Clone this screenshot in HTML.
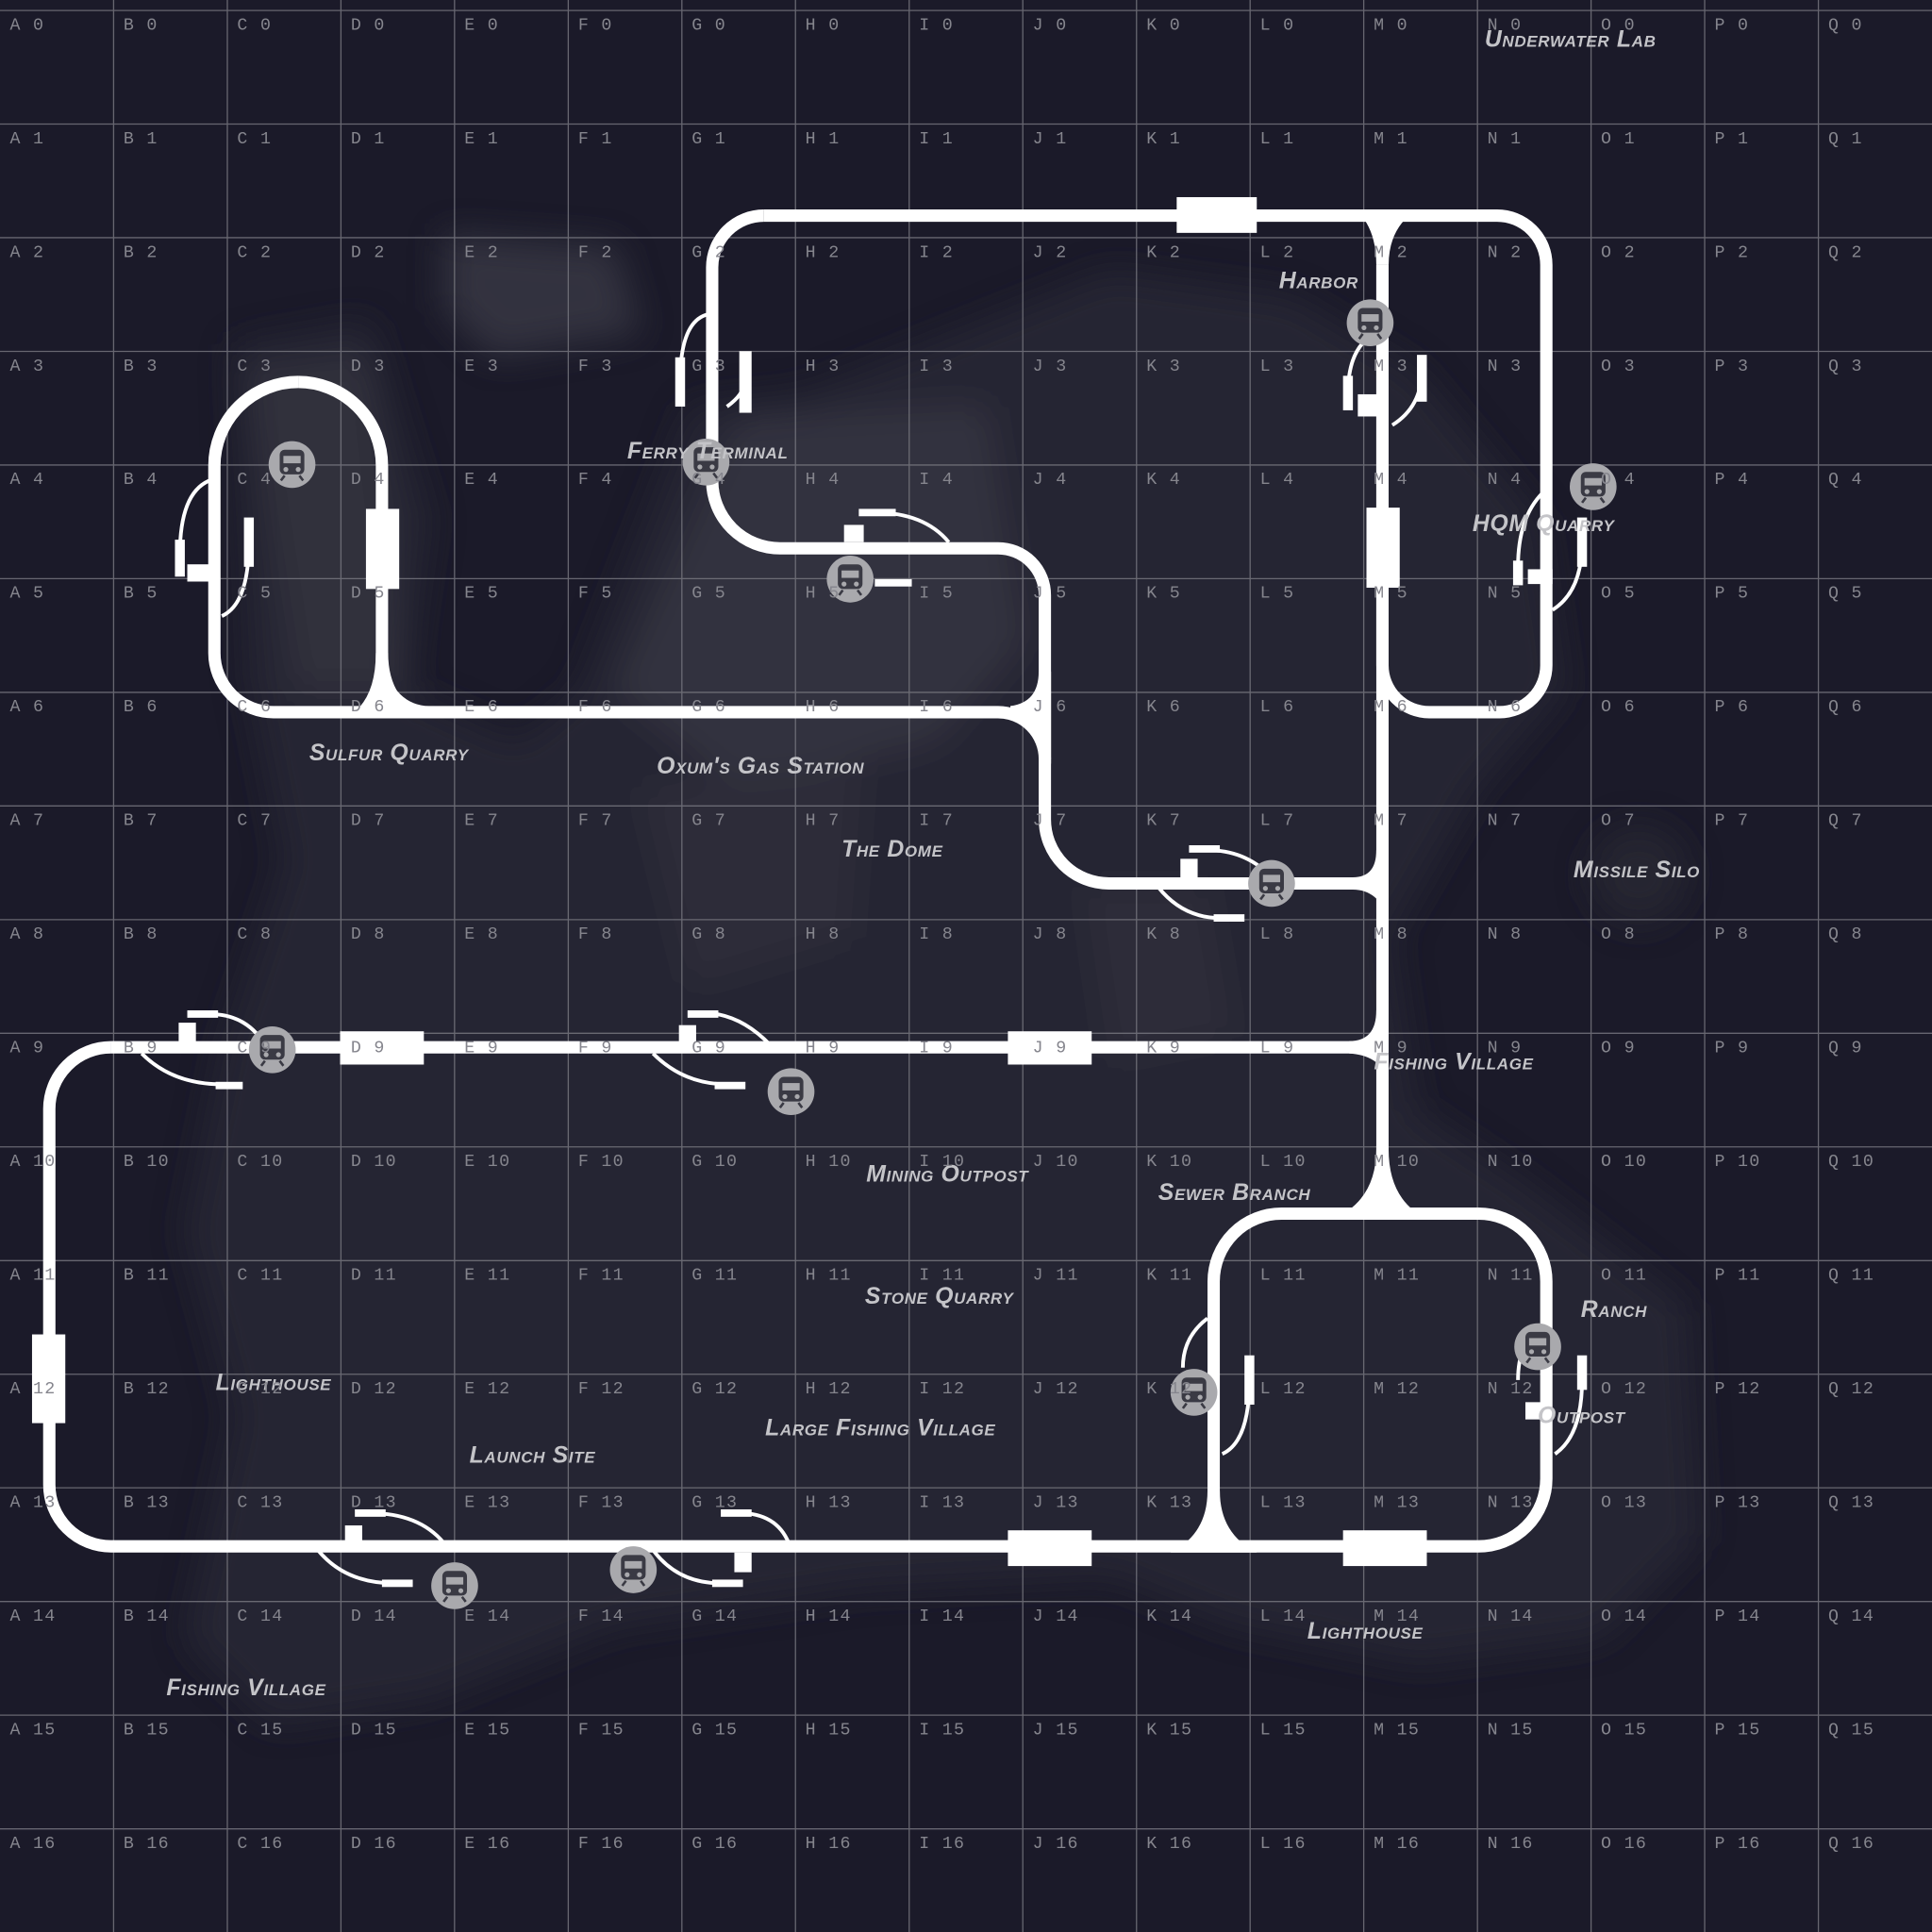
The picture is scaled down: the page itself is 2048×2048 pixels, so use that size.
<!DOCTYPE html>
<html><head><meta charset="utf-8"><style>
html,body{margin:0;padding:0;background:#1b1a29;}
svg{display:block}
.g{font-family:"Liberation Mono",monospace;font-size:14px;fill:#85858d;letter-spacing:1px}
.l{font-family:"Liberation Sans",sans-serif;font-weight:bold;font-style:italic;font-variant:small-caps;font-size:19px;fill:#c4c4c8;letter-spacing:0.5px}
</style></head><body>
<svg width="2048" height="2048" viewBox="0 0 1568 1568" xmlns="http://www.w3.org/2000/svg">
<defs>
<filter id="b" x="-20%" y="-20%" width="140%" height="140%"><feGaussianBlur stdDeviation="14"/></filter>
<g id="st"><circle r="19" fill="#a9a9ad"/><rect x="-10" y="-12" width="20" height="20" rx="4" fill="#3a3a44"/><rect x="-7" y="-7" width="14" height="6" fill="#a9a9ad"/><circle cx="-5" cy="4" r="2" fill="#a9a9ad"/><circle cx="5" cy="4" r="2" fill="#a9a9ad"/><path d="M-6 9 L-9 13 M6 9 L9 13" stroke="#3a3a44" stroke-width="2"/></g>
</defs>
<rect width="1568" height="1568" fill="#1b1a29"/>
<g filter="url(#b)" opacity="0.7">
<path d="M190 280 L300 260 L350 420 L330 560 L420 600 L470 560 L560 330 L650 320 L800 260 L900 220 L1050 240 L1150 300 L1250 420 L1270 560 L1200 640 L1130 760 L1150 900 L1240 960 L1370 1060 L1380 1250 L1300 1330 L1150 1350 L1000 1320 L900 1280 L700 1290 L500 1320 L350 1380 L220 1400 L150 1330 L190 1150 L150 1000 L180 850 L230 700 L200 550 Z" fill="#2c2b37"/>
<path d="M360 190 L500 200 L520 270 L400 290 L360 250 Z" fill="#3e3e4a"/>
<path d="M600 340 L800 330 L830 520 L760 600 L600 640 L500 560 Z" fill="#3c3c48"/>
<path d="M520 640 L700 620 L690 760 L560 800 Z" fill="#363641"/>
<path d="M880 720 L980 720 L1000 840 L900 860 Z" fill="#363641"/>
<path d="M200 300 L300 290 L330 560 L240 560 Z" fill="#3a3a45"/>
<circle cx="1330" cy="710" r="40" fill="#2a2a36"/>
</g>
<g stroke="#7a7a82" stroke-width="1" opacity="0.8">
<path d="M92.2 0V1568M184.5 0V1568M276.7 0V1568M368.9 0V1568M461.2 0V1568M553.4 0V1568M645.6 0V1568M737.9 0V1568M830.1 0V1568M922.4 0V1568M1014.6 0V1568M1106.8 0V1568M1199.1 0V1568M1291.3 0V1568M1383.5 0V1568M1475.8 0V1568"/>
<path d="M0 8.5H1568M0 100.7H1568M0 192.9H1568M0 285.2H1568M0 377.4H1568M0 469.6H1568M0 561.9H1568M0 654.1H1568M0 746.4H1568M0 838.6H1568M0 930.8H1568M0 1023.1H1568M0 1115.3H1568M0 1207.5H1568M0 1299.8H1568M0 1392H1568M0 1484.3H1568"/>
</g>
<g fill="none" stroke="#fff" stroke-width="10" stroke-linejoin="round">
<path d="M620 175 H1215 A40 40 0 0 1 1255 215 V540 A38 38 0 0 1 1217 578 H1160 A38 38 0 0 1 1122 540 V215"/>
<path d="M620 175 A42 42 0 0 0 578 217 V390 A55 55 0 0 0 633 445 H810 A38 38 0 0 1 848 483 V665 A52 52 0 0 0 900 717 H1122"/>
<path d="M242 310 A68 68 0 0 1 310 378 V540 A38 38 0 0 0 348 578 H810 A38 38 0 0 1 848 616"/>
<path d="M242 310 A68 68 0 0 0 174 378 V530 A48 48 0 0 0 222 578 H300"/>
<path d="M1122 215 V850 M90 850 H1122"/>
<path d="M90 850 A50 50 0 0 0 40 900 V1205 A50 50 0 0 0 90 1255 H1200 A55 55 0 0 0 1255 1200 V1040 A55 55 0 0 0 1200 985 H1040 A55 55 0 0 0 985 1040 V1255"/>
<path d="M1122 850 V960"/>
</g>
<g fill="#fff">
<path d="M1117 930 Q1118 975 1080 990 L1160 990 Q1126 975 1127 930Z"/>
<path d="M1100 170 Q1117 185 1117 215 L1127 215 Q1127 185 1150 170Z"/>
<path d="M1098 712 Q1117 712 1117 690 L1127 690 L1127 745 Q1118 722 1098 722Z"/>
<path d="M1095 845 Q1117 845 1117 820 L1127 820 L1127 875 Q1118 856 1095 855Z"/>
<path d="M305 530 Q305 570 280 583 L350 583 Q315 570 315 530Z"/>
<path d="M820 573 Q843 570 843 545 L853 545 L853 620 Q845 590 820 583Z"/>
<path d="M980 1210 Q980 1245 950 1260 L1020 1260 Q990 1245 990 1210Z"/>
<rect x="955" y="160" width="65" height="29"/>
<rect x="297" y="413" width="27" height="65"/>
<rect x="1109" y="412" width="27" height="65"/>
<rect x="276" y="837" width="68" height="27"/>
<rect x="818" y="837" width="68" height="27"/>
<rect x="26" y="1083" width="27" height="72"/>
<rect x="818" y="1242" width="68" height="29"/>
<rect x="1090" y="1242" width="68" height="29"/>
<rect x="548" y="290" width="8" height="40"/><rect x="600" y="285" width="10" height="50"/>
<rect x="142" y="438" width="8" height="30"/><rect x="198" y="420" width="8" height="40"/><rect x="152" y="458" width="22" height="14"/>
<rect x="1090" y="305" width="8" height="28"/><rect x="1150" y="288" width="8" height="38"/><rect x="1102" y="320" width="16" height="18"/>
<rect x="1228" y="455" width="8" height="20"/><rect x="1280" y="420" width="8" height="40"/><rect x="1240" y="462" width="20" height="12"/>
<rect x="685" y="426" width="16" height="14"/><rect x="697" y="413" width="30" height="6"/><rect x="710" y="470" width="30" height="6"/>
<rect x="958" y="697" width="14" height="16"/><rect x="965" y="686" width="25" height="6"/><rect x="985" y="742" width="25" height="6"/>
<rect x="145" y="830" width="14" height="16"/><rect x="152" y="820" width="25" height="6"/><rect x="175" y="878" width="22" height="6"/>
<rect x="551" y="832" width="14" height="16"/><rect x="558" y="820" width="25" height="6"/><rect x="580" y="878" width="25" height="6"/>
<rect x="280" y="1238" width="14" height="16"/><rect x="288" y="1225" width="25" height="6"/><rect x="310" y="1282" width="25" height="6"/>
<rect x="596" y="1260" width="14" height="16"/><rect x="585" y="1225" width="25" height="6"/><rect x="578" y="1282" width="25" height="6"/>
<rect x="1010" y="1100" width="8" height="40"/><rect x="1238" y="1138" width="20" height="14"/><rect x="1280" y="1100" width="8" height="28"/>
</g>
<g fill="none" stroke="#fff" stroke-width="3">
<path d="M552 310 Q552 260 575 255"/><path d="M604 310 Q604 320 590 330"/>
<path d="M146 450 Q146 400 170 390"/><path d="M202 440 Q202 490 180 500"/>
<path d="M1094 320 Q1094 280 1118 270"/><path d="M1154 300 Q1154 330 1130 345"/>
<path d="M1232 460 Q1232 420 1252 400"/><path d="M1284 440 Q1284 480 1260 495"/>
<path d="M710 416 Q750 416 770 440"/><path d="M980 690 Q1010 690 1030 710"/><path d="M990 745 Q960 745 940 720"/>
<path d="M170 823 Q200 823 215 848"/><path d="M180 880 Q140 880 115 855"/><path d="M570 822 Q600 822 625 848"/><path d="M590 880 Q555 880 530 855"/>
<path d="M300 1228 Q340 1228 360 1252"/><path d="M320 1285 Q280 1285 258 1258"/><path d="M600 1228 Q630 1228 640 1252"/><path d="M585 1285 Q550 1285 530 1258"/>
<path d="M1014 1120 Q1014 1170 992 1180"/><path d="M960 1110 Q960 1085 980 1070"/><path d="M1284 1120 Q1284 1165 1262 1180"/><path d="M1232 1120 Q1232 1090 1250 1075"/>
</g>
<g stroke="#fff" stroke-width="2"><path d="M1258 250 V350 M670 580 H740"/></g>
<use href="#st" x="237" y="377"/><use href="#st" x="573" y="375"/><use href="#st" x="690" y="470"/><use href="#st" x="1112" y="262"/>
<use href="#st" x="1293" y="395"/><use href="#st" x="1032" y="717"/><use href="#st" x="221" y="852"/><use href="#st" x="642" y="886"/>
<use href="#st" x="969" y="1130"/><use href="#st" x="1248" y="1093"/><use href="#st" x="369" y="1287"/><use href="#st" x="514" y="1274"/>
<g class="l">
<text x="1205" y="38">Underwater Lab</text>
<text x="1038" y="234">Harbor</text>
<text x="509" y="372">Ferry Terminal</text>
<text x="1195" y="431">HQM Quarry</text>
<text x="251" y="617">Sulfur Quarry</text>
<text x="533" y="628">Oxum's Gas Station</text>
<text x="683" y="695">The Dome</text>
<text x="1277" y="712">Missile Silo</text>
<text x="1115" y="868">Fishing Village</text>
<text x="703" y="959">Mining Outpost</text>
<text x="940" y="974">Sewer Branch</text>
<text x="702" y="1058">Stone Quarry</text>
<text x="1283" y="1069">Ranch</text>
<text x="175" y="1128">Lighthouse</text>
<text x="1248" y="1155">Outpost</text>
<text x="621" y="1165">Large Fishing Village</text>
<text x="381" y="1187">Launch Site</text>
<text x="1061" y="1330">Lighthouse</text>
<text x="135" y="1376">Fishing Village</text>
</g>
<g class="g">
<text y="24"><tspan x="8">A 0</tspan><tspan x="100.2">B 0</tspan><tspan x="192.5">C 0</tspan><tspan x="284.7">D 0</tspan><tspan x="376.9">E 0</tspan><tspan x="469.2">F 0</tspan><tspan x="561.4">G 0</tspan><tspan x="653.6">H 0</tspan><tspan x="745.9">I 0</tspan><tspan x="838.1">J 0</tspan><tspan x="930.4">K 0</tspan><tspan x="1022.6">L 0</tspan><tspan x="1114.8">M 0</tspan><tspan x="1207.1">N 0</tspan><tspan x="1299.3">O 0</tspan><tspan x="1391.5">P 0</tspan><tspan x="1483.8">Q 0</tspan></text>
<text y="116.2"><tspan x="8">A 1</tspan><tspan x="100.2">B 1</tspan><tspan x="192.5">C 1</tspan><tspan x="284.7">D 1</tspan><tspan x="376.9">E 1</tspan><tspan x="469.2">F 1</tspan><tspan x="561.4">G 1</tspan><tspan x="653.6">H 1</tspan><tspan x="745.9">I 1</tspan><tspan x="838.1">J 1</tspan><tspan x="930.4">K 1</tspan><tspan x="1022.6">L 1</tspan><tspan x="1114.8">M 1</tspan><tspan x="1207.1">N 1</tspan><tspan x="1299.3">O 1</tspan><tspan x="1391.5">P 1</tspan><tspan x="1483.8">Q 1</tspan></text>
<text y="208.5"><tspan x="8">A 2</tspan><tspan x="100.2">B 2</tspan><tspan x="192.5">C 2</tspan><tspan x="284.7">D 2</tspan><tspan x="376.9">E 2</tspan><tspan x="469.2">F 2</tspan><tspan x="561.4">G 2</tspan><tspan x="653.6">H 2</tspan><tspan x="745.9">I 2</tspan><tspan x="838.1">J 2</tspan><tspan x="930.4">K 2</tspan><tspan x="1022.6">L 2</tspan><tspan x="1114.8">M 2</tspan><tspan x="1207.1">N 2</tspan><tspan x="1299.3">O 2</tspan><tspan x="1391.5">P 2</tspan><tspan x="1483.8">Q 2</tspan></text>
<text y="300.7"><tspan x="8">A 3</tspan><tspan x="100.2">B 3</tspan><tspan x="192.5">C 3</tspan><tspan x="284.7">D 3</tspan><tspan x="376.9">E 3</tspan><tspan x="469.2">F 3</tspan><tspan x="561.4">G 3</tspan><tspan x="653.6">H 3</tspan><tspan x="745.9">I 3</tspan><tspan x="838.1">J 3</tspan><tspan x="930.4">K 3</tspan><tspan x="1022.6">L 3</tspan><tspan x="1114.8">M 3</tspan><tspan x="1207.1">N 3</tspan><tspan x="1299.3">O 3</tspan><tspan x="1391.5">P 3</tspan><tspan x="1483.8">Q 3</tspan></text>
<text y="392.9"><tspan x="8">A 4</tspan><tspan x="100.2">B 4</tspan><tspan x="192.5">C 4</tspan><tspan x="284.7">D 4</tspan><tspan x="376.9">E 4</tspan><tspan x="469.2">F 4</tspan><tspan x="561.4">G 4</tspan><tspan x="653.6">H 4</tspan><tspan x="745.9">I 4</tspan><tspan x="838.1">J 4</tspan><tspan x="930.4">K 4</tspan><tspan x="1022.6">L 4</tspan><tspan x="1114.8">M 4</tspan><tspan x="1207.1">N 4</tspan><tspan x="1299.3">O 4</tspan><tspan x="1391.5">P 4</tspan><tspan x="1483.8">Q 4</tspan></text>
<text y="485.2"><tspan x="8">A 5</tspan><tspan x="100.2">B 5</tspan><tspan x="192.5">C 5</tspan><tspan x="284.7">D 5</tspan><tspan x="376.9">E 5</tspan><tspan x="469.2">F 5</tspan><tspan x="561.4">G 5</tspan><tspan x="653.6">H 5</tspan><tspan x="745.9">I 5</tspan><tspan x="838.1">J 5</tspan><tspan x="930.4">K 5</tspan><tspan x="1022.6">L 5</tspan><tspan x="1114.8">M 5</tspan><tspan x="1207.1">N 5</tspan><tspan x="1299.3">O 5</tspan><tspan x="1391.5">P 5</tspan><tspan x="1483.8">Q 5</tspan></text>
<text y="577.4"><tspan x="8">A 6</tspan><tspan x="100.2">B 6</tspan><tspan x="192.5">C 6</tspan><tspan x="284.7">D 6</tspan><tspan x="376.9">E 6</tspan><tspan x="469.2">F 6</tspan><tspan x="561.4">G 6</tspan><tspan x="653.6">H 6</tspan><tspan x="745.9">I 6</tspan><tspan x="838.1">J 6</tspan><tspan x="930.4">K 6</tspan><tspan x="1022.6">L 6</tspan><tspan x="1114.8">M 6</tspan><tspan x="1207.1">N 6</tspan><tspan x="1299.3">O 6</tspan><tspan x="1391.5">P 6</tspan><tspan x="1483.8">Q 6</tspan></text>
<text y="669.6"><tspan x="8">A 7</tspan><tspan x="100.2">B 7</tspan><tspan x="192.5">C 7</tspan><tspan x="284.7">D 7</tspan><tspan x="376.9">E 7</tspan><tspan x="469.2">F 7</tspan><tspan x="561.4">G 7</tspan><tspan x="653.6">H 7</tspan><tspan x="745.9">I 7</tspan><tspan x="838.1">J 7</tspan><tspan x="930.4">K 7</tspan><tspan x="1022.6">L 7</tspan><tspan x="1114.8">M 7</tspan><tspan x="1207.1">N 7</tspan><tspan x="1299.3">O 7</tspan><tspan x="1391.5">P 7</tspan><tspan x="1483.8">Q 7</tspan></text>
<text y="761.9"><tspan x="8">A 8</tspan><tspan x="100.2">B 8</tspan><tspan x="192.5">C 8</tspan><tspan x="284.7">D 8</tspan><tspan x="376.9">E 8</tspan><tspan x="469.2">F 8</tspan><tspan x="561.4">G 8</tspan><tspan x="653.6">H 8</tspan><tspan x="745.9">I 8</tspan><tspan x="838.1">J 8</tspan><tspan x="930.4">K 8</tspan><tspan x="1022.6">L 8</tspan><tspan x="1114.8">M 8</tspan><tspan x="1207.1">N 8</tspan><tspan x="1299.3">O 8</tspan><tspan x="1391.5">P 8</tspan><tspan x="1483.8">Q 8</tspan></text>
<text y="854.1"><tspan x="8">A 9</tspan><tspan x="100.2">B 9</tspan><tspan x="192.5">C 9</tspan><tspan x="284.7">D 9</tspan><tspan x="376.9">E 9</tspan><tspan x="469.2">F 9</tspan><tspan x="561.4">G 9</tspan><tspan x="653.6">H 9</tspan><tspan x="745.9">I 9</tspan><tspan x="838.1">J 9</tspan><tspan x="930.4">K 9</tspan><tspan x="1022.6">L 9</tspan><tspan x="1114.8">M 9</tspan><tspan x="1207.1">N 9</tspan><tspan x="1299.3">O 9</tspan><tspan x="1391.5">P 9</tspan><tspan x="1483.8">Q 9</tspan></text>
<text y="946.4"><tspan x="8">A 10</tspan><tspan x="100.2">B 10</tspan><tspan x="192.5">C 10</tspan><tspan x="284.7">D 10</tspan><tspan x="376.9">E 10</tspan><tspan x="469.2">F 10</tspan><tspan x="561.4">G 10</tspan><tspan x="653.6">H 10</tspan><tspan x="745.9">I 10</tspan><tspan x="838.1">J 10</tspan><tspan x="930.4">K 10</tspan><tspan x="1022.6">L 10</tspan><tspan x="1114.8">M 10</tspan><tspan x="1207.1">N 10</tspan><tspan x="1299.3">O 10</tspan><tspan x="1391.5">P 10</tspan><tspan x="1483.8">Q 10</tspan></text>
<text y="1038.6"><tspan x="8">A 11</tspan><tspan x="100.2">B 11</tspan><tspan x="192.5">C 11</tspan><tspan x="284.7">D 11</tspan><tspan x="376.9">E 11</tspan><tspan x="469.2">F 11</tspan><tspan x="561.4">G 11</tspan><tspan x="653.6">H 11</tspan><tspan x="745.9">I 11</tspan><tspan x="838.1">J 11</tspan><tspan x="930.4">K 11</tspan><tspan x="1022.6">L 11</tspan><tspan x="1114.8">M 11</tspan><tspan x="1207.1">N 11</tspan><tspan x="1299.3">O 11</tspan><tspan x="1391.5">P 11</tspan><tspan x="1483.8">Q 11</tspan></text>
<text y="1130.8"><tspan x="8">A 12</tspan><tspan x="100.2">B 12</tspan><tspan x="192.5">C 12</tspan><tspan x="284.7">D 12</tspan><tspan x="376.9">E 12</tspan><tspan x="469.2">F 12</tspan><tspan x="561.4">G 12</tspan><tspan x="653.6">H 12</tspan><tspan x="745.9">I 12</tspan><tspan x="838.1">J 12</tspan><tspan x="930.4">K 12</tspan><tspan x="1022.6">L 12</tspan><tspan x="1114.8">M 12</tspan><tspan x="1207.1">N 12</tspan><tspan x="1299.3">O 12</tspan><tspan x="1391.5">P 12</tspan><tspan x="1483.8">Q 12</tspan></text>
<text y="1223.1"><tspan x="8">A 13</tspan><tspan x="100.2">B 13</tspan><tspan x="192.5">C 13</tspan><tspan x="284.7">D 13</tspan><tspan x="376.9">E 13</tspan><tspan x="469.2">F 13</tspan><tspan x="561.4">G 13</tspan><tspan x="653.6">H 13</tspan><tspan x="745.9">I 13</tspan><tspan x="838.1">J 13</tspan><tspan x="930.4">K 13</tspan><tspan x="1022.6">L 13</tspan><tspan x="1114.8">M 13</tspan><tspan x="1207.1">N 13</tspan><tspan x="1299.3">O 13</tspan><tspan x="1391.5">P 13</tspan><tspan x="1483.8">Q 13</tspan></text>
<text y="1315.3"><tspan x="8">A 14</tspan><tspan x="100.2">B 14</tspan><tspan x="192.5">C 14</tspan><tspan x="284.7">D 14</tspan><tspan x="376.9">E 14</tspan><tspan x="469.2">F 14</tspan><tspan x="561.4">G 14</tspan><tspan x="653.6">H 14</tspan><tspan x="745.9">I 14</tspan><tspan x="838.1">J 14</tspan><tspan x="930.4">K 14</tspan><tspan x="1022.6">L 14</tspan><tspan x="1114.8">M 14</tspan><tspan x="1207.1">N 14</tspan><tspan x="1299.3">O 14</tspan><tspan x="1391.5">P 14</tspan><tspan x="1483.8">Q 14</tspan></text>
<text y="1407.5"><tspan x="8">A 15</tspan><tspan x="100.2">B 15</tspan><tspan x="192.5">C 15</tspan><tspan x="284.7">D 15</tspan><tspan x="376.9">E 15</tspan><tspan x="469.2">F 15</tspan><tspan x="561.4">G 15</tspan><tspan x="653.6">H 15</tspan><tspan x="745.9">I 15</tspan><tspan x="838.1">J 15</tspan><tspan x="930.4">K 15</tspan><tspan x="1022.6">L 15</tspan><tspan x="1114.8">M 15</tspan><tspan x="1207.1">N 15</tspan><tspan x="1299.3">O 15</tspan><tspan x="1391.5">P 15</tspan><tspan x="1483.8">Q 15</tspan></text>
<text y="1499.8"><tspan x="8">A 16</tspan><tspan x="100.2">B 16</tspan><tspan x="192.5">C 16</tspan><tspan x="284.7">D 16</tspan><tspan x="376.9">E 16</tspan><tspan x="469.2">F 16</tspan><tspan x="561.4">G 16</tspan><tspan x="653.6">H 16</tspan><tspan x="745.9">I 16</tspan><tspan x="838.1">J 16</tspan><tspan x="930.4">K 16</tspan><tspan x="1022.6">L 16</tspan><tspan x="1114.8">M 16</tspan><tspan x="1207.1">N 16</tspan><tspan x="1299.3">O 16</tspan><tspan x="1391.5">P 16</tspan><tspan x="1483.8">Q 16</tspan></text>
</g>
</svg>
</body></html>
